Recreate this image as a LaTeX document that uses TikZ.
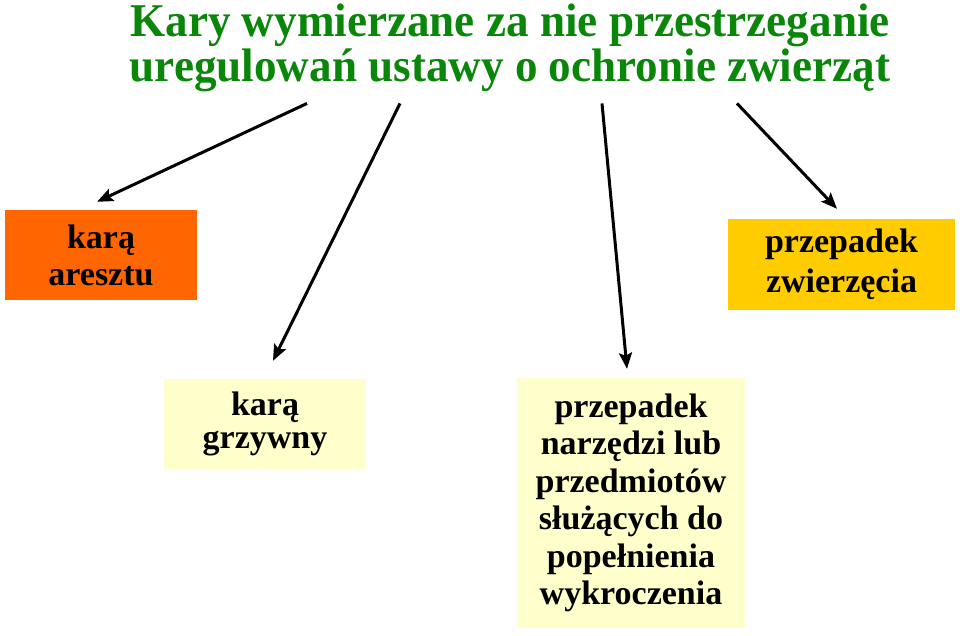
\documentclass[tikz,border=0pt]{standalone}
\usepackage{fontspec}
\setmainfont{Liberation Serif}
\newfontfamily\titlefont[FakeStretch=0.96]{Liberation Serif}
\usetikzlibrary{arrows.meta,calc}
\definecolor{titlegreen}{HTML}{0A870A}
\definecolor{penorange}{HTML}{FF6600}
\definecolor{pengold}{HTML}{FFCC00}
\definecolor{penpale}{HTML}{FFFFCC}
\begin{document}
\begin{tikzpicture}[x=1pt,y=1pt,
  penalty/.style={inner sep=0pt,align=center,font=\bfseries\fontsize{34}{#1}\selectfont},
  penalty/.default=37.5,
  penarrow/.style={line width=3pt,-{Stealth[length=16pt,width=13pt,inset=3pt]}}]
  \useasboundingbox (0,0) rectangle (960,636);

  %%% title
  \node[inner sep=0pt,align=center,text=titlegreen,
    font=\titlefont\bfseries\fontsize{47}{45.5}\selectfont] (title) at (510,588)
    {Kary wymierzane za nie przestrzeganie\\uregulowań ustawy o ochronie zwierząt};

  %%% kary
  \node[penalty=37,fill=penorange,minimum width=192,minimum height=90] (areszt) at (101,380.5) {karą\\aresztu};
  \node[penalty=33,fill=penpale,minimum width=202,minimum height=90] (grzywna) at (265,212) {karą\\grzywny};
  \node[penalty,fill=penpale,minimum width=228,minimum height=250] (narzedzia) at (631,133)
    {przepadek\\narzędzi lub\\przedmiotów\\służących do\\popełnienia\\wykroczenia};
  \node[penalty=40,fill=pengold,minimum width=227,minimum height=91] (zwierze) at (841.5,371.5) {przepadek\\zwierzęcia};

  %%% strzalki
  \coordinate (s1) at ($(title.south)+(-203,-11)$);
  \coordinate (s2) at ($(title.south)+(-110,-11)$);
  \coordinate (s3) at ($(title.south)+(92,-11)$);
  \coordinate (s4) at ($(title.south)+(227,-11)$);
  \coordinate (e1) at ($(areszt.north)+(-4,8.5)$);
  \coordinate (e2) at ($(grzywna.north)+(8,18)$);
  \coordinate (e3) at ($(narzedzia.north)+(-4,9)$);
  \coordinate (e4) at ($(zwierze.north)+(-4.5,10)$);
  \draw[penarrow] (s1) -- (e1);
  \draw[penarrow] (s2) -- (e2);
  \draw[penarrow] (s3) -- (e3);
  \draw[penarrow] (s4) -- (e4);
\end{tikzpicture}
\end{document}
